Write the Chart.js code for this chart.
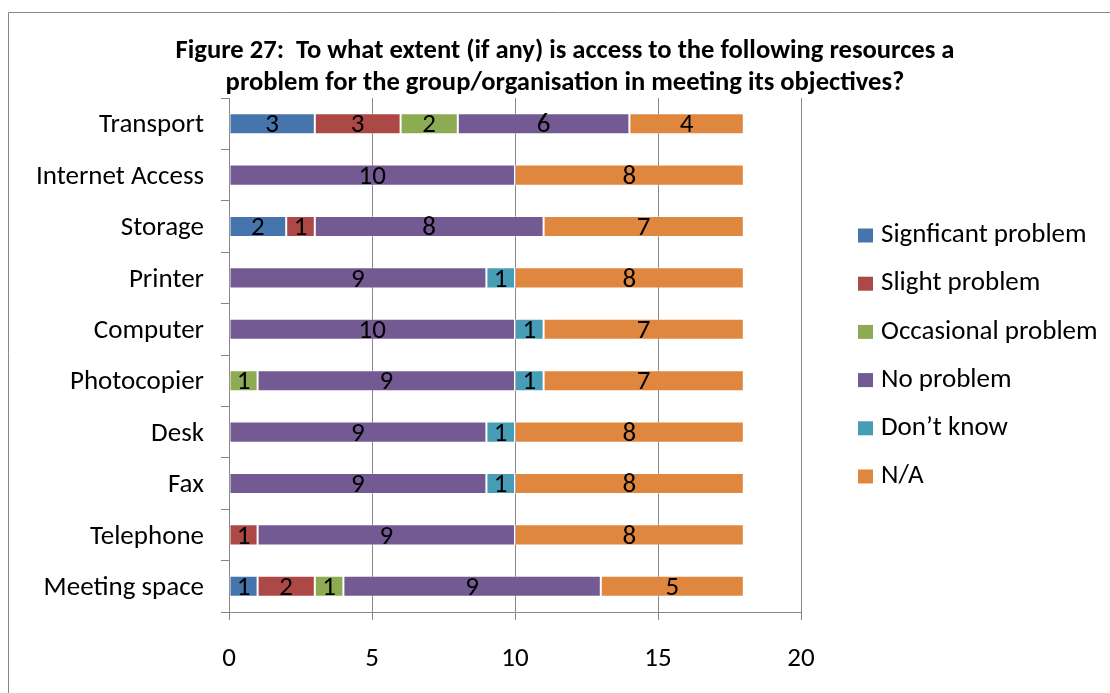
<!DOCTYPE html>
<html>
<head>
<meta charset="utf-8">
<script src="https://cdn.jsdelivr.net/npm/chart.js@4.4.1/dist/chart.umd.min.js"></script>
<style>
  html, body { margin: 0; padding: 0; background: #ffffff; overflow: hidden; }
  #wrap { position: absolute; left: 0; top: 0; width: 1110px; height: 693px; }
</style>
</head>
<body>
<div id="wrap"><canvas id="chart" width="1110" height="693"></canvas></div>
<script>
// Resources asked about, top to bottom
const categories = ['Transport', 'Internet Access', 'Storage', 'Printer', 'Computer',
                    'Photocopier', 'Desk', 'Fax', 'Telephone', 'Meeting space'];

// Number of groups giving each answer, per resource
const significantProblem = [3, 0, 2, 0, 0, 0, 0, 0, 0, 1];
const slightProblem      = [3, 0, 1, 0, 0, 0, 0, 0, 1, 2];
const occasionalProblem  = [2, 0, 0, 0, 0, 1, 0, 0, 0, 1];
const noProblem          = [6, 10, 8, 9, 10, 9, 9, 9, 9, 9];
const dontKnow           = [0, 0, 0, 1, 1, 1, 1, 1, 0, 0];
const notApplicable      = [4, 8, 7, 8, 7, 7, 8, 8, 8, 5];

const seriesNames = ['Signficant problem', 'Slight problem', 'Occasional problem',
                     'No problem', 'Don\u2019t know', 'N/A'];
const seriesColors = ['#4674AC', '#AC4845', '#8DAB52', '#735A93', '#479DB6', '#E0873F'];

const xTicks = [0, 5, 10, 15, 20];

const titleLines = [
  'Figure 27:  To what extent (if any) is access to the following resources a',
  'problem for the group/organisation in meeting its objectives?'
];

const FONT = 'Carlito, Calibri, Lato, sans-serif';
const AXIS_GREY = '#878787';
const TEXT_SIZE = 27;

const seriesValues = [significantProblem, slightProblem, occasionalProblem,
                      noProblem, dontKnow, notApplicable];

const datasets = seriesValues.map((vals, i) => ({
  label: seriesNames[i],
  data: vals,
  backgroundColor: seriesColors[i],
  borderColor: 'rgba(255,255,255,0.35)',
  borderWidth: 1,
  borderSkipped: false,
  categoryPercentage: 1.0,
  barPercentage: 0.41
}));

// Frame line along the top and left of the chart
const framePlugin = {
  id: 'frame',
  beforeDraw(chart) {
    const ctx = chart.ctx;
    ctx.save();
    ctx.fillStyle = '#ffffff';
    ctx.fillRect(0, 0, chart.width, chart.height);
    ctx.strokeStyle = AXIS_GREY;
    ctx.lineWidth = 1;
    ctx.beginPath();
    ctx.moveTo(8.5, chart.height);
    ctx.lineTo(8.5, 12.5);
    ctx.lineTo(chart.width, 12.5);
    ctx.stroke();
    ctx.restore();
  }
};

// Two-line bold heading
const headingPlugin = {
  id: 'heading',
  afterDraw(chart) {
    const ctx = chart.ctx;
    ctx.save();
    ctx.font = 'bold 26.6px ' + FONT;
    ctx.fillStyle = '#000000';
    ctx.textAlign = 'center';
    ctx.textBaseline = 'middle';
    titleLines.forEach((line, i) => ctx.fillText(line, 565, 51 + i * 32));
    ctx.restore();
  }
};

// Value written in the middle of each segment
const segmentLabelPlugin = {
  id: 'segmentLabels',
  afterDatasetsDraw(chart) {
    const ctx = chart.ctx;
    ctx.save();
    ctx.font = TEXT_SIZE + 'px ' + FONT;
    ctx.fillStyle = '#000000';
    ctx.textAlign = 'center';
    ctx.textBaseline = 'middle';
    chart.data.datasets.forEach((ds, di) => {
      const meta = chart.getDatasetMeta(di);
      meta.data.forEach((bar, i) => {
        const v = ds.data[i];
        if (!v) return;
        const p = bar.getCenterPoint();
        ctx.fillText(String(v), p.x, p.y + 2);
      });
    });
    ctx.restore();
  }
};

// Key listing the answers, to the right of the plot
const keyPlugin = {
  id: 'key',
  afterDraw(chart) {
    const ctx = chart.ctx;
    ctx.save();
    ctx.font = TEXT_SIZE + 'px ' + FONT;
    ctx.textAlign = 'left';
    ctx.textBaseline = 'middle';
    chart.data.datasets.forEach((ds, i) => {
      const cy = 235.5 + i * 48.2;
      ctx.fillStyle = ds.backgroundColor;
      ctx.fillRect(858, cy - 7, 15, 14);
      ctx.fillStyle = '#000000';
      ctx.fillText(ds.label, 881, cy);
    });
    ctx.restore();
  }
};

new Chart(document.getElementById('chart'), {
  type: 'bar',
  data: { labels: categories, datasets },
  options: {
    indexAxis: 'y',
    responsive: false,
    animation: false,
    devicePixelRatio: 1,
    layout: { padding: { top: 98, right: 309, bottom: 0, left: 0 } },
    plugins: {
      legend: { display: false },
      title: { display: false },
      tooltip: { enabled: false }
    },
    scales: {
      x: {
        stacked: true,
        min: xTicks[0],
        max: xTicks[xTicks.length - 1],
        afterBuildTicks(scale) { scale.ticks = xTicks.map(v => ({ value: v })); },
        afterFit(scale) { scale.height = 81; },
        ticks: {
          font: { family: FONT, size: TEXT_SIZE },
          color: '#000000',
          padding: 23,
          maxRotation: 0
        },
        grid: { color: AXIS_GREY, lineWidth: 1, tickLength: 8, drawTicks: true },
        border: { color: AXIS_GREY, width: 1 }
      },
      y: {
        stacked: true,
        afterFit(scale) { scale.width = 229; },
        ticks: {
          font: { family: FONT, size: TEXT_SIZE },
          color: '#000000',
          padding: 17,
          labelOffset: 2
        },
        grid: { drawOnChartArea: false, offset: true, color: AXIS_GREY, tickLength: 8 },
        border: { color: AXIS_GREY, width: 1 }
      }
    }
  },
  plugins: [framePlugin, segmentLabelPlugin, headingPlugin, keyPlugin]
});
</script>
</body>
</html>
